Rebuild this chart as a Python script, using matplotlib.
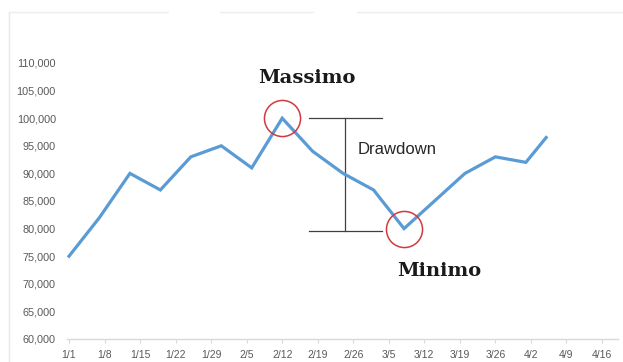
import matplotlib
matplotlib.use("Agg")
import matplotlib.pyplot as plt
import matplotlib.dates as mdates
from matplotlib.lines import Line2D
import numpy as np
import pandas as pd

# Portfolio value sampled every few days
dates = pd.to_datetime([
    "2018-01-01", "2018-01-07", "2018-01-13", "2018-01-19", "2018-01-25",
    "2018-01-31", "2018-02-06", "2018-02-12", "2018-02-18", "2018-02-24",
    "2018-03-02", "2018-03-08", "2018-03-14", "2018-03-20", "2018-03-26",
    "2018-04-01", "2018-04-05",
])
values = [75000, 82000, 90000, 87000, 93000, 95000, 91000, 100000, 94000,
          90000, 87000, 80000, 85000, 90000, 93000, 92000, 96500]

tick_dates = pd.date_range("2018-01-01", "2018-04-16", freq="7D")
tick_labels = [f"{d.month}/{d.day}" for d in tick_dates]
y_ticks = list(range(60000, 110001, 5000))

LINE_BLUE = "#5b9bd5"
CIRCLE_RED = "#d03a3f"
AXIS_GREY = "#d9d9d9"
LABEL_GREY = "#595959"

W, H = 623, 362
fig = plt.figure(figsize=(W / 100, H / 100), dpi=100)
fig.patch.set_facecolor("white")

# plot area in pixel terms
left_px, right_px = 67, 618
bottom_px, top_px = 339, 63
ax = fig.add_axes([left_px / W, 1 - bottom_px / H,
                   (right_px - left_px) / W, (bottom_px - top_px) / H])

px_per_day = (602 - 69) / 105.0
x0 = mdates.date2num(pd.Timestamp("2018-01-01"))
ax.set_xlim(x0 + (left_px - 69) / px_per_day, x0 + (right_px - 69) / px_per_day)
ax.set_ylim(60000, 110000)

ax.plot(dates, values, color=LINE_BLUE, lw=2.3, solid_joinstyle="miter", zorder=3)

# peak and trough of the drawdown
vals = np.array(values)
i_peak = int(np.argmax(vals))
i_low = i_peak + int(np.argmin(vals[i_peak:]))
ax.plot([dates[i_peak], dates[i_low]], [vals[i_peak], vals[i_low]], "o",
        ms=26, mfc="none", mec=CIRCLE_RED, mew=1.1, zorder=4)

ax.text(x0 + (307 - 69) / px_per_day, 107300, "Massimo", ha="center", va="center",
        fontsize=14, fontweight="bold", family="DejaVu Serif", color="#1a1a1a")
ax.text(x0 + (439 - 69) / px_per_day, 72300, "Minimo", ha="center", va="center",
        fontsize=14, fontweight="bold", family="DejaVu Serif", color="#1a1a1a")

# drawdown bracket
bx1 = x0 + (309 - 69) / px_per_day
bx2 = x0 + (382 - 69) / px_per_day
bxm = x0 + (345 - 69) / px_per_day
bracket = dict(color="#404040", lw=0.9, zorder=2)
ax.plot([bx1, bx2], [vals[i_peak], vals[i_peak]], **bracket)
ax.plot([bx1, bx2], [vals[i_low] - 500, vals[i_low] - 500], **bracket)
ax.plot([bxm, bxm], [vals[i_peak], vals[i_low] - 500], **bracket)
ax.text(x0 + (358 - 69) / px_per_day, 94300, "Drawdown", ha="left", va="center",
        fontsize=12, family="Liberation Sans", color="#262626")

# axes styling
for s in ["top", "right", "left"]:
    ax.spines[s].set_visible(False)
ax.spines["bottom"].set_color(AXIS_GREY)
ax.spines["bottom"].set_linewidth(1.0)

ax.set_yticks(y_ticks)
ax.set_yticklabels([f"{v:,}" for v in y_ticks])
ax.set_xticks(tick_dates)
ax.set_xticklabels(tick_labels)
ax.tick_params(axis="y", length=0, pad=8, labelsize=7.8, labelcolor=LABEL_GREY)
ax.tick_params(axis="x", length=3, width=0.8, color=AXIS_GREY, pad=5,
               labelsize=7.5, labelcolor=LABEL_GREY)
for lbl in ax.get_xticklabels() + ax.get_yticklabels():
    lbl.set_family("Liberation Sans")

# faint chart-area border
fig.add_artist(Line2D([9 / W, 9 / W], [0, 1 - 12 / H], transform=fig.transFigure,
                      color="#e8e8e8", lw=1))
for xa, xb in [(9, 168), (220, 313), (357, 623)]:
    fig.add_artist(Line2D([xa / W, xb / W], [1 - 12 / H, 1 - 12 / H],
                          transform=fig.transFigure, color="#eeeeee", lw=1))

fig.savefig("out.png", dpi=100)
